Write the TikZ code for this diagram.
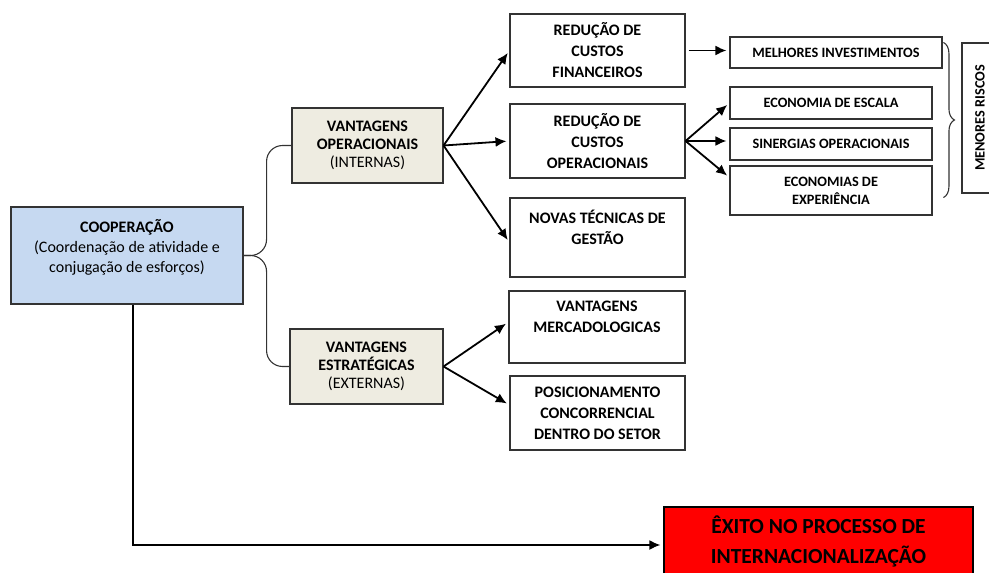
\documentclass[tikz,border=0pt]{standalone}
\usepackage{fontspec}
\setmainfont{Carlito}
\usetikzlibrary{shapes,arrows.meta,positioning,decorations.pathreplacing,calc}

\definecolor{coopblue}{HTML}{C6D9F1}
\definecolor{vantbeige}{HTML}{EEECE1}
\definecolor{exitored}{HTML}{FF0000}

\begin{document}
\begin{tikzpicture}[
    x=1pt, y=-1pt,
    box/.style={rectangle, draw=black!80, line width=1.1pt, fill=white, align=center, inner sep=0pt, font=\fontsize{16}{21}\selectfont\bfseries},
    coopbox/.style={box, fill=coopblue, font=\fontsize{16}{20}\selectfont},
    vant/.style={box, fill=vantbeige, font=\fontsize{16}{18}\selectfont\bfseries},
    small/.style={box, font=\fontsize{14.3}{18}\selectfont\bfseries},
    goal/.style={box, draw=black, fill=exitored, font=\fontsize{21.5}{30}\selectfont\bfseries},
    arrow/.style={-{Latex[length=11pt,width=10pt]}, line width=1.8pt, shorten >=3pt},
    link/.style={line width=1.1pt, draw=black!80}
]
    \useasboundingbox (0,0) rectangle (989,573);

    \node[coopbox, minimum width=232, minimum height=97] (coop) at (127,255.5)
        {\textbf{COOPERAÇÃO}\\(Coordenação de atividade e\\conjugação de esforços)\\ \mbox{}};
    \node[vant, minimum width=151, minimum height=75] (vo) at (367.5,145.5)
        {VANTAGENS\\OPERACIONAIS\\\textmd{(INTERNAS)}};
    \node[vant, minimum width=153, minimum height=75] (ve) at (366.5,366.5)
        {VANTAGENS\\ESTRATÉGICAS\\\textmd{(EXTERNAS)}};

    \node[box, minimum width=175, minimum height=73] (rcf) at (597.5,50.5) {REDUÇÃO DE\\CUSTOS\\FINANCEIROS};
    \node[box, minimum width=175, minimum height=74] (rco) at (597.5,141) {REDUÇÃO DE\\CUSTOS\\OPERACIONAIS};
    \node[box, minimum width=175, minimum height=79] (ntg) at (597.5,237.5) {NOVAS TÉCNICAS DE\\GESTÃO\\ \mbox{}};
    \node[box, minimum width=176, minimum height=72] (vm) at (597,327) {VANTAGENS\\MERCADOLOGICAS\\ \mbox{}};
    \node[box, minimum width=175, minimum height=74] (pcd) at (597.5,413) {POSICIONAMENTO\\CONCORRENCIAL\\DENTRO DO SETOR};

    \node[small, minimum width=212, minimum height=31] (mi) at (836,52.5) {MELHORES INVESTIMENTOS};
    \node[small, minimum width=202, minimum height=32] (ee) at (831,103) {ECONOMIA DE ESCALA};
    \node[small, minimum width=202, minimum height=32] (so) at (831,144) {SINERGIAS OPERACIONAIS};
    \node[small, minimum width=202, minimum height=49] (exp) at (831,190.5) {ECONOMIAS DE\\EXPERIÊNCIA};
    \node[small, rotate=90, minimum width=150, minimum height=36] (mr) at (980,118) {MENORES RISCOS};

    \node[goal, minimum width=309, minimum height=68] (exito) at (818.5,541) {ÊXITO NO PROCESSO DE\\INTERNACIONALIZAÇÃO};

    % chave entre cooperacao e vantagens
    \coordinate (fork) at ($(coop.east)+(23,0)$);
    \draw[link, rounded corners=16pt] (coop.east) -- (fork) |- (vo.west);
    \draw[link, rounded corners=16pt] (coop.east) -- (fork) |- (ve.west);

    \draw[arrow] (vo.east) -- (rcf.west);
    \draw[arrow] (vo.east) -- (rco.west);
    \draw[arrow] (vo.east) -- ([yshift=-5pt]ntg.west);
    \draw[arrow] (ve.east) -- ([yshift=5pt]vm.west);
    \draw[arrow] (ve.east) -- ([yshift=8pt]pcd.west);

    \draw[arrow, shorten <=3pt] (rcf.east) -- (rcf.east -| mi.west);
    \draw[arrow] (rco.east) -- (ee.west);
    \draw[arrow] (rco.east) -- (rco.east -| so.west);
    \draw[arrow] (rco.east) -- ([yshift=13pt]exp.west);

    \draw[link, decorate, decoration={brace, amplitude=11pt}]
        ([xshift=-18pt]mr.north east) -- ([xshift=-18pt,yshift=-4pt]mr.north west);

    \draw[arrow] ([xshift=6pt]coop.south) |- ([yshift=-4pt]exito.west);
\end{tikzpicture}
\end{document}
